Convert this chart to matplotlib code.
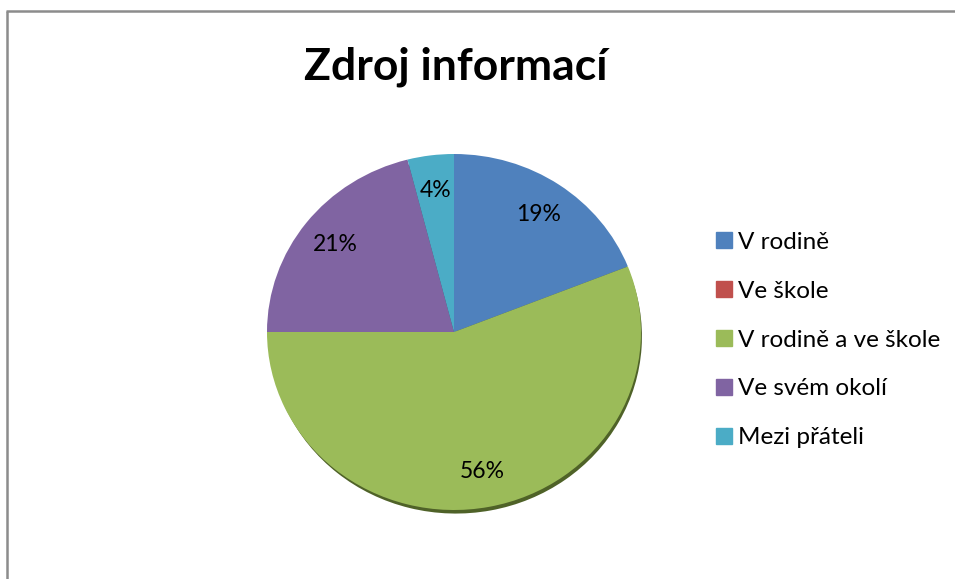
import matplotlib
matplotlib.use("Agg")
import matplotlib.pyplot as plt
from matplotlib.lines import Line2D

categories = ["V rodině", "Ve škole", "V rodině a ve škole", "Ve svém okolí", "Mezi přáteli"]
values = [19, 0, 56, 21, 4]
colors = ["#4F81BD", "#C0504D", "#9BBB59", "#8064A2", "#4BACC6"]
shadow_colors = ["#2f4d71", "#73302e", "#4f6228", "#4c3c61", "#2d6777"]
title = "Zdroj informací"

W, H = 955, 579
fig = plt.figure(figsize=(W / 100, H / 100), dpi=100)
fig.patch.set_facecolor("white")

# chart frame (left and top edges visible)
fig.add_artist(Line2D([7 / W, 7 / W], [-0.05, 1 - 11 / H], transform=fig.transFigure,
                      color="#8c8c8c", linewidth=1.8, solid_capstyle="butt"))
fig.add_artist(Line2D([7 / W - 0.0009, 1.05], [1 - 11 / H, 1 - 11 / H], transform=fig.transFigure,
                      color="#8c8c8c", linewidth=1.8, solid_capstyle="butt"))

fam = ["Lato", "DejaVu Sans"]
fig.text(456 / W, 1 - 67 / H, title, ha="center", va="center", fontsize=32,
         fontweight="bold", family=fam)

cx, cy, rx, ry = 454, 332, 187, 178
ax = fig.add_axes([(cx - rx) / W, (H - cy - ry) / H, 2 * rx / W, 2 * ry / H])

# shadow / edge
ax.pie(values, colors=shadow_colors, startangle=90, counterclock=False,
       center=(0.01, -0.025), radius=0.995, wedgeprops=dict(linewidth=0))

def fmt(p):
    return f"{p:.0f}%" if p > 0.5 else ""

wedges, texts, autotexts = ax.pie(values, colors=colors, startangle=90, counterclock=False,
                                  autopct=fmt, pctdistance=0.8, radius=1.0,
                                  wedgeprops=dict(linewidth=0),
                                  textprops=dict(fontsize=16.5, family=fam, color="black"))
ax.set_aspect("auto")
ax.set_xlim(-1, 1)
ax.set_ylim(-1, 1)
ax.axis("off")

handles = [Line2D([0], [0], marker="s", linestyle="none", markersize=11,
                  markerfacecolor=c, markeredgecolor=c) for c in colors]
leg = fig.legend(handles, categories, loc="center left", bbox_to_anchor=(692 / W, 1 - 340 / H),
                 frameon=False, prop=dict(family=fam, size=17.5), labelspacing=1.15,
                 handlelength=0.8, handletextpad=0.2)

fig.savefig("out.png", dpi=100, facecolor="white")
